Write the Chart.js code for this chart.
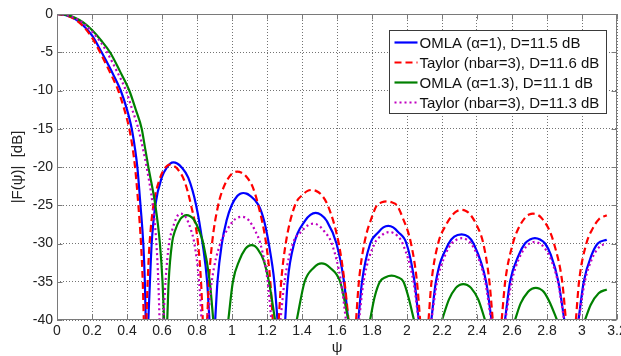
<!DOCTYPE html>
<html>
<head>
<meta charset="utf-8">
<script src="https://cdn.jsdelivr.net/npm/chart.js@4.4.1/dist/chart.umd.min.js"></script>
<style>
  html, body { margin: 0; padding: 0; background: #fff; }
</style>
</head>
<body>
<canvas id="pattern" width="621" height="356"></canvas>
<script>
// Array factor |F(psi)| in dB, points as [psi, dB]; [psi, null] marks a null (gap below -40 dB)
var omlaA1 = [
  [0,0],[0.05,-0.15],[0.1,-0.6],[0.15,-1.5],[0.2,-2.8],[0.255,-5],[0.31,-7.4],[0.364,-10],[0.4,-12.5],[0.427,-15],[0.445,-17.5],[0.459,-20],[0.477,-25],[0.493,-30],[0.502,-35],[0.507,-40],
  [0.512,null],
  [0.522,-40],[0.531,-35],[0.541,-30],[0.562,-25],[0.6,-21.3],[0.63,-20],[0.647,-19.55],[0.665,-19.4],[0.687,-19.55],[0.71,-20],[0.75,-21.4],[0.795,-25],[0.832,-30],[0.858,-35],[0.871,-40],
  [0.888,null],
  [0.904,-40],[0.917,-35],[0.942,-30],[0.969,-27],[0.998,-25],[1.03,-23.8],[1.047,-23.5],[1.065,-23.4],[1.083,-23.48],[1.1,-23.7],[1.152,-25],[1.183,-27],[1.21,-30],[1.242,-35],[1.26,-40],
  [1.28,null],
  [1.304,-40],[1.318,-35],[1.355,-30],[1.418,-27],[1.448,-26.25],[1.478,-26],[1.509,-26.25],[1.54,-27],[1.597,-30],[1.64,-35],[1.664,-40],
  [1.69,null],
  [1.722,-40],[1.743,-35],[1.79,-30],[1.838,-28.5],[1.865,-27.9],[1.893,-27.7],[1.921,-27.9],[1.949,-28.5],[1.997,-30],[2.043,-35],[2.067,-40],
  [2.1,null],
  [2.139,-40],[2.165,-35],[2.238,-30],[2.27,-29.1],[2.312,-28.8],[2.35,-29.1],[2.38,-30],[2.452,-35],[2.483,-40],
  [2.52,null],
  [2.56,-40],[2.589,-35],[2.639,-31.5],[2.674,-30],[2.703,-29.48],[2.731,-29.3],[2.76,-29.48],[2.789,-30],[2.822,-31.5],[2.865,-35],[2.899,-40],
  [2.94,null],
  [2.98,-40],[3.01,-35],[3.055,-31.5],[3.09,-30],[3.1416,-29.5]
];
var taylorA = [
  [0,0],[0.05,-0.17],[0.1,-0.65],[0.15,-1.6],[0.2,-3.1],[0.246,-5],[0.3,-7.5],[0.35,-10],[0.385,-12.5],[0.413,-15],[0.432,-17.5],[0.446,-20],[0.465,-25],[0.48,-30],[0.49,-35],[0.496,-40],
  [0.502,null],
  [0.511,-40],[0.518,-35],[0.529,-30],[0.551,-25],[0.585,-21.7],[0.612,-20.3],[0.629,-19.85],[0.646,-19.7],[0.668,-19.85],[0.69,-20.3],[0.726,-21.7],[0.766,-25],[0.806,-30],[0.823,-35],[0.833,-40],
  [0.845,null],
  [0.858,-40],[0.868,-35],[0.886,-30],[0.921,-25],[0.953,-22.6],[0.987,-21.2],[1.008,-20.75],[1.03,-20.6],[1.055,-20.75],[1.08,-21.2],[1.118,-22.6],[1.15,-25],[1.195,-30],[1.219,-35],[1.233,-40],
  [1.248,null],
  [1.267,-40],[1.281,-35],[1.307,-30],[1.36,-25],[1.41,-23.5],[1.432,-23.12],[1.455,-23],[1.48,-23.12],[1.505,-23.5],[1.547,-25],[1.61,-30],[1.643,-35],[1.666,-40],
  [1.688,null],
  [1.709,-40],[1.725,-35],[1.756,-30],[1.8,-26.5],[1.828,-25],[1.856,-24.62],[1.884,-24.5],[1.913,-24.62],[1.942,-25],[1.973,-26.5],[2.023,-30],[2.057,-35],[2.075,-40],
  [2.098,null],
  [2.123,-40],[2.14,-35],[2.178,-30],[2.222,-27.6],[2.266,-26.1],[2.289,-25.72],[2.312,-25.6],[2.334,-25.72],[2.357,-26.1],[2.398,-27.6],[2.436,-30],[2.471,-35],[2.49,-40],
  [2.515,null],
  [2.541,-40],[2.561,-35],[2.605,-30],[2.635,-28.1],[2.676,-26.6],[2.698,-26.22],[2.72,-26.1],[2.743,-26.22],[2.766,-26.6],[2.81,-28.1],[2.84,-30],[2.887,-35],[2.908,-40],
  [2.937,null],
  [2.965,-40],[2.983,-35],[3.025,-30],[3.055,-28.3],[3.098,-26.8],[3.1416,-26.3]
];
var omlaA13 = [
  [0,0],[0.05,-0.12],[0.1,-0.45],[0.15,-1.1],[0.2,-2.1],[0.25,-3.4],[0.303,-5],[0.36,-7.5],[0.413,-10],[0.45,-12.5],[0.484,-15],[0.503,-17.5],[0.522,-20],[0.562,-25],[0.588,-30],[0.603,-35],[0.612,-40],
  [0.62,null],
  [0.63,-40],[0.638,-35],[0.657,-30],[0.675,-28.3],[0.705,-26.8],[0.723,-26.42],[0.741,-26.3],[0.76,-26.42],[0.78,-26.8],[0.812,-28.3],[0.836,-30],[0.873,-35],[0.893,-40],
  [0.935,null],
  [0.979,-40],[1.005,-35],[1.042,-32.2],[1.076,-30.7],[1.094,-30.32],[1.112,-30.2],[1.129,-30.32],[1.146,-30.7],[1.181,-32.2],[1.211,-35],[1.246,-40],
  [1.3,null],
  [1.37,-40],[1.415,-35],[1.47,-33.1],[1.491,-32.72],[1.512,-32.6],[1.534,-32.72],[1.557,-33.1],[1.618,-35],[1.665,-40],
  [1.73,null],
  [1.789,-40],[1.815,-37],[1.845,-35],[1.878,-34.4],[1.912,-34.2],[1.946,-34.4],[1.98,-35],[2.008,-37],[2.04,-40],
  [2.12,null],
  [2.2,-40],[2.24,-37.3],[2.279,-35.8],[2.3,-35.42],[2.322,-35.3],[2.344,-35.42],[2.366,-35.8],[2.407,-37.3],[2.446,-40],
  [2.53,null],
  [2.617,-40],[2.65,-37.8],[2.692,-36.3],[2.714,-35.92],[2.736,-35.8],[2.758,-35.92],[2.781,-36.3],[2.818,-37.8],[2.857,-40],
  [2.94,null],
  [3.017,-40],[3.05,-38],[3.095,-36.5],[3.1416,-36]
];
var taylorB = [
  [0,0],[0.05,-0.13],[0.1,-0.5],[0.15,-1.2],[0.2,-2.3],[0.25,-3.7],[0.286,-5],[0.34,-7.4],[0.394,-10],[0.43,-12.5],[0.465,-15],[0.49,-17.5],[0.512,-20],[0.547,-25],[0.568,-30],[0.579,-35],[0.586,-40],
  [0.595,null],
  [0.608,-40],[0.62,-35],[0.64,-30],[0.66,-28.1],[0.683,-26.6],[0.695,-26.22],[0.707,-26.1],[0.722,-26.22],[0.737,-26.6],[0.764,-28.1],[0.785,-30],[0.812,-35],[0.826,-40],
  [0.838,null],
  [0.862,-40],[0.884,-35],[0.933,-30],[0.965,-28.5],[1.009,-27],[1.032,-26.62],[1.055,-26.5],[1.076,-26.62],[1.097,-27],[1.136,-28.5],[1.162,-30],[1.204,-35],[1.225,-40],
  [1.25,null],
  [1.277,-40],[1.3,-35],[1.348,-30],[1.398,-28.4],[1.432,-27.65],[1.465,-27.4],[1.496,-27.65],[1.527,-28.4],[1.57,-30],[1.623,-35],[1.651,-40],
  [1.69,null],
  [1.726,-40],[1.752,-35],[1.815,-30],[1.852,-29],[1.876,-28.62],[1.9,-28.5],[1.922,-28.62],[1.945,-29],[1.975,-30],[2.037,-35],[2.066,-40],
  [2.1,null],
  [2.14,-40],[2.172,-35],[2.222,-31.3],[2.255,-30],[2.285,-29.48],[2.315,-29.3],[2.34,-29.48],[2.365,-30],[2.397,-31.3],[2.447,-35],[2.48,-40],
  [2.52,null],
  [2.562,-40],[2.598,-35],[2.643,-31.8],[2.685,-30.3],[2.707,-29.92],[2.73,-29.8],[2.752,-29.92],[2.775,-30.3],[2.817,-31.8],[2.862,-35],[2.898,-40],
  [2.94,null],
  [2.981,-40],[3.016,-35],[3.057,-32],[3.097,-30.5],[3.1416,-30]
];

var seriesLabels = ['OMLA (\u03b1=1), D=11.5 dB', 'Taylor (nbar=3), D=11.6 dB', 'OMLA (\u03b1=1.3), D=11.1 dB', 'Taylor (nbar=3), D=11.3 dB'];
var psiTicks = [0, 0.2, 0.4, 0.6, 0.8, 1, 1.2, 1.4, 1.6, 1.8, 2, 2.2, 2.4, 2.6, 2.8, 3, 3.2];
var dbTicks = [-40, -35, -30, -25, -20, -15, -10, -5, 0];

var FONT = "'Liberation Sans', Arial, sans-serif";

function toPoints(arr) {
  return arr.map(function(p) { return {x: p[0], y: p[1]}; });
}

// box around the plot with short inward ticks
var axesBox = {
  id: 'axesBox',
  afterDatasetsDraw: function(chart) {
    var ctx = chart.ctx, a = chart.chartArea;
    var xs = chart.scales.x, ys = chart.scales.y;
    var l = Math.round(a.left) + 0.5, r = Math.round(a.right) - 0.5;
    var t = Math.round(a.top) + 0.5, b = Math.round(a.bottom) - 0.5;
    ctx.save();
    ctx.strokeStyle = '#7a7a7a';
    ctx.lineWidth = 1;
    ctx.strokeRect(l, t, r - l, b - t);
    ctx.beginPath();
    psiTicks.forEach(function(v) {
      var px = Math.round(xs.getPixelForValue(v)) + 0.5;
      ctx.moveTo(px, b); ctx.lineTo(px, b - 5);
      ctx.moveTo(px, t); ctx.lineTo(px, t + 5);
    });
    dbTicks.forEach(function(v) {
      var py = Math.round(ys.getPixelForValue(v)) + 0.5;
      ctx.moveTo(l, py); ctx.lineTo(l + 5, py);
      ctx.moveTo(r, py); ctx.lineTo(r - 5, py);
    });
    ctx.stroke();
    ctx.restore();
  }
};

// legend drawn inside the plot, upper right
var boxLegend = {
  id: 'boxLegend',
  afterDraw: function(chart) {
    var ctx = chart.ctx, a = chart.chartArea;
    var w = 217, h = 83;
    var x0 = Math.round(a.right) - 11 - w + 0.5, y0 = Math.round(a.top) + 16 + 0.5;
    ctx.save();
    ctx.fillStyle = '#fff';
    ctx.fillRect(x0, y0, w, h);
    ctx.strokeStyle = '#3a3a3a';
    ctx.lineWidth = 1;
    ctx.strokeRect(x0, y0, w, h);
    ctx.font = '15px ' + FONT;
    ctx.textBaseline = 'middle';
    ctx.textAlign = 'left';
    chart.data.datasets.forEach(function(ds, i) {
      var yy = y0 + 12 + i * 20;
      ctx.save();
      ctx.strokeStyle = ds.borderColor;
      ctx.lineWidth = ds.borderWidth;
      ctx.setLineDash(ds.borderDash || []);
      ctx.beginPath();
      ctx.moveTo(x0 + 5, yy);
      ctx.lineTo(x0 + 28, yy);
      ctx.stroke();
      ctx.restore();
      ctx.fillStyle = '#111';
      ctx.fillText(ds.label, x0 + 30, yy + 1);
    });
    ctx.restore();
  }
};

var ctx = document.getElementById('pattern');
var chart = new Chart(ctx, {
  type: 'line',
  data: {
    datasets: [
      { label: seriesLabels[0], data: toPoints(omlaA1), borderColor: '#0000ff', borderWidth: 2.2, order: 4 },
      { label: seriesLabels[1], data: toPoints(taylorA), borderColor: '#ff0000', borderWidth: 2.2, borderDash: [7, 4], order: 3 },
      { label: seriesLabels[2], data: toPoints(omlaA13), borderColor: '#008000', borderWidth: 2.2, order: 2 },
      { label: seriesLabels[3], data: toPoints(taylorB), borderColor: '#c000c0', borderWidth: 2.2, borderDash: [2, 3], order: 1 }
    ]
  },
  options: {
    responsive: false,
    animation: false,
    layout: { padding: { left: 0, right: 4, top: 14, bottom: 0 } },
    elements: {
      point: { radius: 0 },
      line: { cubicInterpolationMode: 'monotone', fill: false }
    },
    plugins: {
      legend: { display: false },
      tooltip: { enabled: false }
    },
    scales: {
      x: {
        type: 'linear',
        min: 0,
        max: 3.2,
        afterBuildTicks: function(s) { s.ticks = psiTicks.map(function(v) { return {value: v}; }); },
        afterFit: function(s) { s.height = 36; s.paddingLeft = 0; s.paddingRight = 0; },
        ticks: { autoSkip: false, maxRotation: 0, padding: 3, color: '#222', font: { family: FONT, size: 14 },
                 callback: function(v) { return String(v); } },
        grid: { color: 'rgba(0,0,0,0.55)', lineWidth: 1, drawTicks: false },
        border: { display: false, dash: [1, 2] },
        title: { display: true, text: '\u03c8', color: '#222', font: { family: FONT, size: 15 }, padding: { top: 0, bottom: -1 } }
      },
      y: {
        type: 'linear',
        min: -40,
        max: 0,
        afterBuildTicks: function(s) { s.ticks = dbTicks.map(function(v) { return {value: v}; }); },
        afterFit: function(s) { s.width = 57; s.paddingTop = 0; s.paddingBottom = 0; },
        ticks: { autoSkip: false, padding: 4, color: '#222', font: { family: FONT, size: 14 } },
        grid: { color: 'rgba(0,0,0,0.55)', lineWidth: 1, drawTicks: false },
        border: { display: false, dash: [1, 2] },
        title: { display: true, text: '|F(\u03c8)|  [dB]', color: '#222', font: { family: FONT, size: 15 }, padding: { top: 9, bottom: 0 } }
      }
    }
  },
  plugins: [axesBox, boxLegend]
});
</script>
</body>
</html>
